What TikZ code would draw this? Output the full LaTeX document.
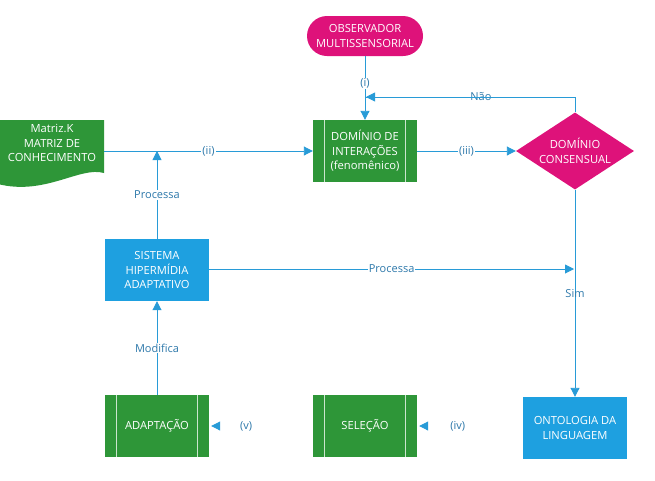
\documentclass[tikz,border=0pt]{standalone}
\usepackage{fontspec}
\setmainfont{Open Sans}
\usetikzlibrary{shapes.geometric,arrows.meta,calc}
\definecolor{gbox}{RGB}{46,150,56}
\definecolor{mag}{RGB}{222,18,122}
\definecolor{bbox}{RGB}{30,160,224}
\definecolor{lin}{RGB}{40,155,215}
\definecolor{lbl}{RGB}{45,120,170}
\tikzset{
  base/.style={text=white, font=\fontsize{11.2}{14.5}\selectfont, align=center, inner sep=0pt},
  greenbox/.style={base, fill=gbox, minimum width=104pt, minimum height=62pt},
  bluebox/.style={base, fill=bbox, minimum width=104pt, minimum height=62pt},
  pill/.style={base, fill=mag, rounded corners=20pt, minimum width=116pt, minimum height=40pt},
  dia/.style={base, fill=mag, diamond, aspect=1.55, minimum width=118pt, minimum height=77pt},
  conn/.style={draw=lin, line width=0.9pt},
  tip/.style={-{Triangle[length=9pt,width=9pt,color=lin]}},
  arr/.style={conn, tip},
  lab/.style={text=lbl, fill=white, font=\fontsize{11}{13}\selectfont, inner sep=1pt},
  sidebar/.style={draw=white!75!gbox, line width=0.8pt}
}
\begin{document}
\begin{tikzpicture}[x=1pt,y=-1pt]
\useasboundingbox (0,0) rectangle (655,480);
% nodes
\node[pill] (obs) at (365,36) {OBSERVADOR\\MULTISSENSORIAL};
\node[greenbox] (dint) at (365,151) {DOMÍNIO DE\\INTERAÇÕES\\(fenomênico)};
\node[dia] (dcon) at (575,151) {DOMÍNIO\\CONSENSUAL};
\node[bluebox] (sha) at (157,270) {SISTEMA\\HIPERMÍDIA\\ADAPTATIVO};
\node[greenbox] (adap) at (157,426) {ADAPTAÇÃO};
\node[greenbox] (sel) at (365,426) {SELEÇÃO};
\node[bluebox] (onto) at (575,428) {ONTOLOGIA DA\\LINGUAGEM};
% predefined process bars
\foreach \n in {dint,adap,sel}{
  \draw[sidebar] ($(\n.north west)+(12,0)$) -- ($(\n.south west)+(12,0)$);
  \draw[sidebar] ($(\n.north east)+(-12,0)$) -- ($(\n.south east)+(-12,0)$);
}
% document shape
\fill[gbox] (-2,120) -- (104,120) -- (104,173) .. controls (80,166) and (45,196) .. (-2,184) -- cycle;
\node[base, minimum width=104pt, minimum height=40pt] (mat) at (52,143) {Matriz.K\\MATRIZ DE\\CONHECIMENTO};
% coordinates
\coordinate (jm) at (157,151);
\coordinate (top) at (575,97);
\coordinate (cross) at (366,97);
\coordinate (sim) at (574,269);
\coordinate (vstart) at (250,426);
\coordinate (ivstart) at (462,426);
% connectors
\draw[arr] (obs.south) -- node[lab, pos=0.43, inner sep=0.5pt] {(i)} (dint.north);
\draw[conn] (dcon.north) -- (top) -- node[lab, pos=0.45] {Não} (cross);
\draw[arr] (top) -- (cross);
\draw[arr] (mat.east |- jm) -- node[lab, pos=0.5] {(ii)} (dint.west);
\draw[arr] (sha.north) -- node[lab, pos=0.5] {Processa} (jm);
\draw[arr] (dint.east) -- node[lab, pos=0.5] {(iii)} (dcon.west);
\draw[arr] (sha.east |- sim) -- node[lab, pos=0.5] {Processa} (sim);
\draw[arr] (dcon.south) -- node[lab, pos=0.5, fill=none] {Sim} (onto.north);
\draw[arr] (adap.north) -- node[lab, pos=0.5] {Modifica} (sha.south);
\draw[draw=white, line width=0.9pt, tip] (vstart) -- node[lab, pos=0.1, anchor=center] {(v)} ($(adap.east)+(2,0)$);
\draw[draw=white, line width=0.9pt, tip] (ivstart) -- node[lab, pos=0.1, anchor=center] {(iv)} ($(sel.east)+(2,0)$);
\end{tikzpicture}
\end{document}
